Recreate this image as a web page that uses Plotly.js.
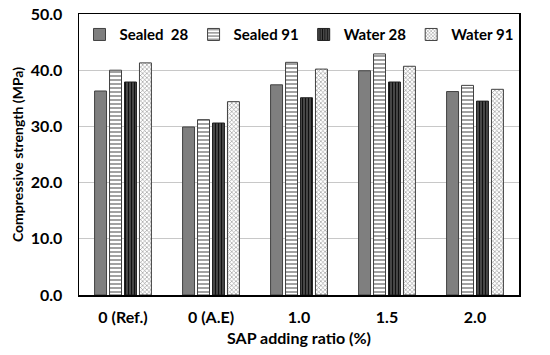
<!DOCTYPE html>
<html>
<head>
<script src="https://cdn.plot.ly/plotly-3.0.1.min.js"></script>
<style>html,body{margin:0;padding:0;background:#fff}#chart{width:550px;height:355px}</style>
</head>
<body>
<div id="chart"></div>
<script>
const categories = ["0 (Ref.)", "0 (A.E)", "1.0", "1.5", "2.0"];
const sealed28 = [36.3, 29.9, 37.4, 39.9, 36.2];
const sealed91 = [40.0, 31.2, 41.4, 42.9, 37.3];
const water28 = [37.9, 30.6, 35.1, 37.9, 34.5];
const water91 = [41.3, 34.4, 40.2, 40.7, 36.6];
const seriesNames = ["Sealed  28", "Sealed 91", "Water 28", "Water 91"];

const font = "Lato, Open Sans, sans-serif";
const traces = [
  {name: seriesNames[0], y: sealed28, marker: {color: "#7f7f7f", line: {color: "#404040", width: 1}}},
  {name: seriesNames[1], y: sealed91, marker: {color: "#ffffff", line: {color: "#404040", width: 1},
     pattern: {shape: "-", fgcolor: "#8a8a8a", bgcolor: "#ffffff", size: 4, solidity: 0.4}}},
  {name: seriesNames[2], y: water28, marker: {color: "#202020", line: {color: "#202020", width: 1},
     pattern: {shape: "|", fgcolor: "#111111", bgcolor: "#6a6a6a", size: 3, solidity: 0.6}}},
  {name: seriesNames[3], y: water91, marker: {color: "#ffffff", line: {color: "#404040", width: 1},
     pattern: {shape: "x", fgcolor: "#8c8c8c", bgcolor: "#ffffff", size: 3, solidity: 0.35}}}
].map(t => Object.assign({type: "bar", x: categories}, t));

const layout = {
  width: 550, height: 355,
  margin: {l: 79, r: 31, t: 14, b: 60},
  paper_bgcolor: "#fff", plot_bgcolor: "#fff",
  font: {family: font, color: "#000", size: 14},
  barmode: "group", bargap: 0.32, bargroupgap: 0.2,
  showlegend: true,
  legend: {orientation: "h", x: 0.5, xanchor: "center", y: 0.985, yanchor: "top",
           font: {family: font, size: 15, color: "#000", weight: "bold"}, bgcolor: "rgba(0,0,0,0)",
           itemwidth: 30, tracegroupgap: 0},
  xaxis: {
    type: "category",
    title: {text: "SAP adding ratio (%)", font: {family: font, size: 16, weight: "bold"}, standoff: 8},
    tickfont: {family: font, size: 16, weight: "bold"}, ticklabelstandoff: 7,
    showline: true, linecolor: "#000", linewidth: 1.5, mirror: true,
    ticks: "", showgrid: false
  },
  yaxis: {
    title: {text: "Compressive strength (MPa)", font: {family: font, size: 14, weight: "bold"}, standoff: 4},
    range: [0, 50], dtick: 10, tickformat: ".1f",
    tickfont: {family: font, size: 16, weight: "bold"}, ticklabelstandoff: 12,
    showgrid: true, gridcolor: "#c8c8c8", gridwidth: 1,
    showline: true, linecolor: "#000", linewidth: 1.5, mirror: true,
    ticks: "", zeroline: false
  }
};
Plotly.newPlot("chart", traces, layout, {displayModeBar: false, staticPlot: true});
</script>
</body>
</html>
